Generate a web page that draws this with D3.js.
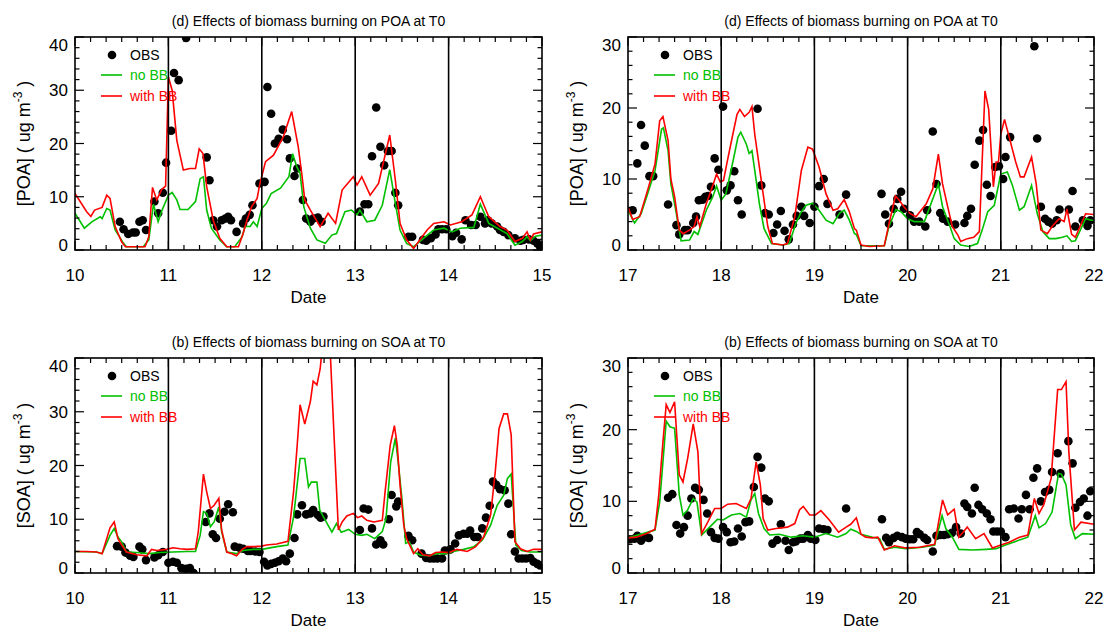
<!DOCTYPE html>
<meta charset="utf-8">
<style>
body { margin: 0; background: #fff; }
text { font-family: "Liberation Sans", Arial, Helvetica, sans-serif; fill: #000; }
</style>
<svg width="1105" height="631"></svg>
<script src="https://cdnjs.cloudflare.com/ajax/libs/d3/7.8.5/d3.min.js"></script>
<script>

// ---- data: [day, value] ----
var poaObsA = [[10.48,5.3],[10.52,3.9],[10.57,3],[10.62,3.3],[10.65,3.3],[10.69,5.3],[10.725,5.6],[10.76,3.75],[10.85,9.1],[10.89,6.9],[10.94,10.75],[10.975,16.4],[11.03,22.4],[11.06,33.25],[11.11,31.9],[11.19,39.8],[11.41,17.4],[11.44,13.1],[11.48,5.6],[11.52,4.4],[11.57,5.6],[11.61,5.9],[11.64,6.25],[11.67,5.6],[11.73,3.4],[11.8,5],[11.83,5.9],[11.87,6.6],[11.9,8.4],[11.975,12.5],[12.03,12.8],[12.06,30.6],[12.1,25.6],[12.14,20],[12.18,20.9],[12.225,22.6],[12.27,20.8],[12.3,17.2],[12.35,13.9],[12.38,15.3],[12.44,9.4],[12.475,5.9],[12.52,5.3],[12.55,5.9],[12.6,6.1],[12.64,5.3],[13.05,7.2],[13.1,8.6],[13.14,8.6],[13.18,17.6],[13.225,26.75],[13.27,19.4],[13.31,15.9],[13.35,18.6],[13.39,18.6],[13.43,10.75],[13.46,8.4],[13.57,2.5],[13.61,2.5],[13.725,1.9],[13.76,1.75],[13.81,2.2],[13.86,2.9],[13.89,3.9],[13.93,3.9],[13.975,3.9],[14.04,2.6],[14.08,3.25],[14.14,2],[14.18,5.6],[14.24,4.7],[14.29,4.7],[14.34,6.25],[14.39,5],[14.42,5.6],[14.46,5],[14.52,4.4],[14.55,3.75],[14.59,3.4],[14.64,2.8],[14.71,2.2],[14.77,1.75],[14.8,1.9],[14.86,2],[14.91,1.75],[14.95,1.25],[14.98,0.6]];
var poaNoBBA = [[10,6.9],[10.1,4.1],[10.18,5.3],[10.27,6.25],[10.29,5.9],[10.34,7.8],[10.375,7.5],[10.43,3.75],[10.52,1.25],[10.55,0.6],[10.73,0.6],[10.79,1.9],[10.84,8.6],[10.89,5.3],[10.93,7.4],[11,10.3],[11.04,10.8],[11.09,9.4],[11.125,7.6],[11.21,7.6],[11.29,9.1],[11.34,13.4],[11.375,13.75],[11.41,7.5],[11.46,4.1],[11.55,1.9],[11.625,0.6],[11.71,0.6],[11.79,2.5],[11.82,4.4],[11.875,4.4],[11.91,5.3],[11.95,4.4],[12,7.8],[12.05,8.75],[12.1,10.6],[12.2,11.6],[12.29,13.75],[12.33,18.1],[12.375,15.6],[12.41,14.4],[12.45,8.1],[12.52,4.1],[12.59,1.9],[12.68,1.25],[12.75,2.8],[12.8,3.1],[12.89,7.2],[12.96,7.5],[13.02,6.6],[13.05,7.5],[13.125,5.3],[13.21,5.6],[13.29,8.4],[13.37,15.1],[13.43,8.75],[13.48,3.75],[13.55,1.25],[13.625,0.6],[13.73,2.2],[13.84,3.75],[13.95,4.1],[14.04,3.4],[14.125,4.1],[14.27,4.25],[14.34,8.6],[14.43,5],[14.52,4.1],[14.625,3.1],[14.71,0.9],[14.79,1.6],[14.84,2.5],[14.875,1.75],[14.93,2.6],[15,2.8]];
var poaWithBBA = [[10,10.6],[10.125,7.2],[10.17,6.3],[10.21,7.5],[10.29,8],[10.34,10.3],[10.375,9.7],[10.43,4.4],[10.5,1.5],[10.54,0.6],[10.75,0.6],[10.79,2.5],[10.83,11.75],[10.875,9.4],[10.93,11.4],[10.97,12],[11,32.5],[11.04,30],[11.09,20.6],[11.16,15],[11.23,15.3],[11.29,15.3],[11.33,19],[11.37,18.1],[11.41,11.9],[11.48,5.6],[11.55,2.2],[11.625,0.6],[11.75,0.6],[11.8,3.1],[11.84,5.6],[11.89,8.1],[11.95,9.7],[11.98,12.5],[12.04,16.6],[12.125,17.8],[12.23,21.25],[12.32,26],[12.39,19.4],[12.43,14],[12.46,9.4],[12.52,7.5],[12.625,4.4],[12.71,6.9],[12.79,5],[12.86,11.25],[12.98,13.75],[13.02,12.2],[13.07,13.75],[13.16,10.3],[13.25,12.5],[13.37,21.6],[13.43,13.1],[13.48,5],[13.55,1.9],[13.625,0.3],[13.77,3.75],[13.84,5],[13.95,5.3],[14.02,4.7],[14.14,5.3],[14.25,6.6],[14.34,10],[14.43,6.25],[14.55,4.4],[14.625,3.75],[14.71,1.6],[14.79,2.2],[14.84,3.4],[14.875,1.9],[14.91,3],[15,3.4]];

var poaObsB = [[17.05,5.6],[17.1,12.2],[17.14,17.6],[17.18,14.7],[17.23,10.4],[17.27,10.4],[17.43,6.4],[17.52,3.5],[17.55,2.2],[17.61,2.8],[17.64,2.8],[17.7,3.8],[17.73,4.7],[17.76,7],[17.8,7.1],[17.83,7.5],[17.86,7.6],[17.89,8.9],[17.93,12.9],[17.97,11.3],[18.02,20.2],[18.06,8.4],[18.1,9.1],[18.14,11.1],[18.18,7],[18.22,5],[18.39,19.9],[18.43,9.1],[18.47,5.2],[18.51,5],[18.56,2.4],[18.6,3.6],[18.64,5.5],[18.68,2.7],[18.725,1.5],[18.77,3.6],[18.81,4.8],[18.86,6.1],[18.89,4.8],[18.95,3.8],[19,6.1],[19.05,9],[19.1,10],[19.14,6.5],[19.27,5],[19.34,7.8],[19.72,7.9],[19.76,5],[19.8,3.7],[19.85,5.8],[19.89,7.2],[19.93,8.2],[19.96,5.8],[20.025,4.9],[20.07,4],[20.125,4],[20.19,3.3],[20.21,5.6],[20.27,16.7],[20.31,9.3],[20.35,5.2],[20.38,4.4],[20.43,4],[20.51,3.6],[20.61,3.8],[20.64,4.8],[20.68,5.8],[20.72,12],[20.77,15.4],[20.81,16.9],[20.85,9.2],[20.89,7.6],[20.94,11.7],[20.98,11.8],[21.025,10],[21.05,13.1],[21.1,15.9],[21.36,28.7],[21.39,15.7],[21.43,6.1],[21.475,4.4],[21.51,4],[21.55,3.7],[21.6,4.2],[21.63,5.7],[21.73,5.7],[21.77,8.3],[21.8,3.3],[21.88,4.2],[21.93,3.4],[21.96,4.2]];
var poaNoBBB = [[17,5.6],[17.07,3.8],[17.14,5.1],[17.21,7.9],[17.29,11.2],[17.36,17],[17.38,17.2],[17.43,14],[17.46,9.3],[17.5,6.5],[17.57,1.3],[17.66,1.4],[17.71,2.6],[17.75,2.2],[17.84,5.6],[17.91,7.5],[17.95,9],[18,7],[18.05,7.9],[18.125,12.4],[18.18,15.9],[18.21,16.6],[18.27,14.9],[18.3,13.6],[18.33,14],[18.375,9.8],[18.41,6.5],[18.46,3],[18.54,0.9],[18.66,0.7],[18.73,0.9],[18.8,3.7],[18.86,5.4],[18.91,6.3],[18.98,6.6],[19.05,5.6],[19.125,4.2],[19.2,3.7],[19.27,5.2],[19.32,5.6],[19.375,4.2],[19.43,2.3],[19.45,2.2],[19.5,0.6],[19.75,0.6],[19.8,3.3],[19.875,5.7],[19.93,5.4],[20,4.4],[20.07,4],[20.18,4],[20.25,6.5],[20.33,9.3],[20.375,6.1],[20.45,3.5],[20.5,1.6],[20.57,0.7],[20.66,0.5],[20.75,0.9],[20.8,2.8],[20.86,5.4],[20.93,6.3],[21,10.7],[21.07,11],[21.125,9.1],[21.2,5.6],[21.25,6.1],[21.33,9.1],[21.39,5.2],[21.45,2.6],[21.52,1.6],[21.59,1.6],[21.66,1.8],[21.71,2],[21.76,1.2],[21.8,1.3],[21.91,4.4],[22,4.1]];
var poaWithBBB = [[17,6.1],[17.05,4.3],[17.125,4.7],[17.21,8.4],[17.29,12.1],[17.34,18.2],[17.375,18.8],[17.43,15.4],[17.46,10],[17.5,7.5],[17.55,2.8],[17.59,2.3],[17.66,2.8],[17.71,3.3],[17.74,4.7],[17.77,3.3],[17.84,6.5],[17.91,9.1],[17.95,10.7],[17.99,9.6],[18.025,9.8],[18.07,12.8],[18.125,16.3],[18.17,19.1],[18.2,19.8],[18.25,18.8],[18.3,19.4],[18.33,20.2],[18.36,16.3],[18.4,12.6],[18.45,7.9],[18.5,3.3],[18.55,0.9],[18.66,0.7],[18.71,0.9],[18.79,4.7],[18.86,11.2],[18.93,14.5],[18.98,14.2],[19.05,11.7],[19.125,7.9],[19.2,5.6],[19.25,5.8],[19.32,7.1],[19.375,5.4],[19.43,3],[19.45,2.8],[19.5,0.7],[19.59,0.5],[19.75,0.6],[19.8,3.7],[19.87,7.6],[19.91,7],[19.96,6.1],[20.02,5.2],[20.09,4.7],[20.2,6.5],[20.27,8.6],[20.33,13.5],[20.375,9.3],[20.43,6.1],[20.48,3.3],[20.54,2.1],[20.57,1.2],[20.64,1.6],[20.71,1.8],[20.77,2.6],[20.83,22.4],[20.87,19.8],[20.92,8.9],[20.95,12.4],[20.975,12.4],[21,16.3],[21.04,18.4],[21.09,15.9],[21.16,12.4],[21.21,10.3],[21.25,10.3],[21.33,13.1],[21.38,9.3],[21.43,2.8],[21.5,2.3],[21.55,3.3],[21.625,4.4],[21.68,4],[21.71,5.8],[21.76,2.2],[21.8,1.8],[21.91,5.1],[22,5]];

var soaObsA = [[10.45,5],[10.5,4.9],[10.54,3.8],[10.59,3.2],[10.625,3],[10.69,4.9],[10.72,4.4],[10.76,2.4],[10.85,2.9],[10.89,3.3],[10.94,3.9],[11,1.9],[11.05,2.1],[11.09,1.9],[11.14,0.9],[11.19,0.8],[11.23,0.9],[11.27,0],[11.3,-0.6],[11.4,9.5],[11.44,11.1],[11.475,7.2],[11.51,6.5],[11.55,10.1],[11.6,11.4],[11.64,12.8],[11.69,11.3],[11.71,4.9],[11.76,4.7],[11.8,4.5],[11.85,4.1],[11.88,4.1],[11.93,4],[11.975,3.9],[12.025,2.1],[12.06,1.4],[12.1,1.7],[12.14,1.9],[12.18,2.2],[12.225,2.7],[12.26,2.2],[12.3,3.6],[12.35,6.5],[12.38,10.9],[12.43,12.6],[12.475,10.9],[12.52,11.1],[12.55,11.7],[12.6,10.8],[12.63,10.3],[12.66,10.5],[13.05,8],[13.09,12],[13.14,11.8],[13.18,8.3],[13.225,5.3],[13.27,6.1],[13.3,5.3],[13.36,10],[13.39,14.5],[13.44,12.4],[13.46,13.3],[13.57,6.9],[13.61,6.1],[13.71,3.6],[13.76,2.8],[13.8,2.7],[13.84,2.7],[13.88,2.7],[13.93,2.7],[13.96,4.2],[14.02,4.4],[14.07,5.5],[14.11,7],[14.16,7.3],[14.2,7.3],[14.23,7.9],[14.275,6.7],[14.31,6.7],[14.36,8.3],[14.4,10.3],[14.44,12.5],[14.475,17],[14.51,16.4],[14.55,15.6],[14.6,15.4],[14.64,12.9],[14.67,7.2],[14.71,4],[14.75,2.7],[14.79,2.7],[14.83,2.7],[14.875,2.8],[14.91,2.1],[14.95,1.7],[14.98,1.4]];
var soaNoBBA = [[10,4],[10.23,3.9],[10.29,3.6],[10.375,7],[10.42,8.3],[10.46,6.7],[10.5,5.8],[10.55,3.9],[10.66,3.8],[10.79,3.6],[10.91,3.8],[11.05,3.9],[11.2,4],[11.29,4],[11.34,7],[11.375,11.4],[11.41,11.1],[11.45,8.6],[11.49,9.5],[11.54,12.3],[11.57,7.7],[11.625,3.9],[11.73,3.6],[11.8,4.2],[11.91,4.4],[12,4.4],[12.16,4.9],[12.28,5.2],[12.34,10.4],[12.41,21.3],[12.46,21.3],[12.5,16],[12.53,16.9],[12.59,16.9],[12.62,11.7],[12.7,9.2],[12.75,7.6],[12.8,9.2],[12.85,7.6],[12.93,8.1],[13,7.2],[13.07,7],[13.125,7.2],[13.21,6.4],[13.29,7.7],[13.33,10.1],[13.38,20.7],[13.43,25.1],[13.46,20.7],[13.5,13.9],[13.54,5.5],[13.58,5.8],[13.625,3.9],[13.7,3.3],[13.79,3.2],[13.875,3.6],[13.98,3.6],[14.05,4],[14.16,4.4],[14.27,4.9],[14.36,6.1],[14.45,8.9],[14.52,12.6],[14.59,14.5],[14.63,17.6],[14.67,18.4],[14.72,5.2],[14.78,4.2],[14.87,3.9],[15,3.9]];
var soaWithBBA = [[10,4],[10.125,4],[10.23,3.9],[10.29,3.6],[10.375,8.4],[10.42,9.5],[10.46,6.4],[10.5,5.2],[10.55,3.9],[10.66,3.4],[10.77,3.2],[10.82,4.4],[10.875,4.2],[10.98,4.4],[11.05,4.7],[11.125,4.5],[11.2,4.4],[11.29,4.5],[11.32,7.7],[11.375,18.4],[11.41,15.1],[11.45,12],[11.49,12.6],[11.54,13.9],[11.57,8],[11.625,3.9],[11.68,3.6],[11.73,3.2],[11.79,4.4],[11.84,4.9],[11.91,4.9],[12,5],[12.05,5.2],[12.16,5.4],[12.28,5.9],[12.34,15.1],[12.38,24],[12.41,31.3],[12.46,27.7],[12.52,31.9],[12.55,35.7],[12.59,35],[12.625,38],[12.66,44],[12.72,46],[12.77,26.9],[12.82,8],[12.86,9.5],[12.91,10.6],[12.98,11.1],[13.025,10.3],[13.07,10.6],[13.125,9.8],[13.2,9.5],[13.29,9.8],[13.32,15.1],[13.375,23.8],[13.42,27.4],[13.45,23.8],[13.48,16.4],[13.52,8.9],[13.55,6.4],[13.625,3.6],[13.67,4.5],[13.725,3.4],[13.8,3.2],[13.86,3.8],[13.93,3.9],[14,3.8],[14.09,4.4],[14.2,4],[14.29,4.9],[14.375,6.7],[14.45,10.8],[14.5,18.9],[14.54,26.9],[14.59,29.6],[14.63,29.6],[14.67,25.7],[14.71,5.8],[14.77,4.5],[14.84,4],[14.91,4.4],[15,4.4]];

var soaObsB = [[17.02,4.7],[17.07,4.8],[17.1,5.2],[17.14,4.5],[17.19,5],[17.225,4.9],[17.43,10.5],[17.475,11],[17.52,6.7],[17.56,5.5],[17.6,6.4],[17.64,8],[17.68,10.4],[17.72,11.9],[17.76,11.6],[17.81,10.2],[17.85,8.3],[17.89,5.7],[17.93,4.9],[17.97,4.8],[18.02,6.4],[18.06,5.7],[18.1,4.3],[18.14,4.4],[18.18,6.2],[18.22,5.1],[18.26,7.1],[18.3,7.2],[18.35,12],[18.39,16.2],[18.43,14.7],[18.47,10.4],[18.51,10],[18.55,4.1],[18.6,4.6],[18.64,6.8],[18.69,4.5],[18.725,3.2],[18.77,4.3],[18.8,4.4],[18.85,4.8],[18.88,4.8],[18.93,5.3],[18.96,4.8],[19.01,4.6],[19.05,6.2],[19.1,6.1],[19.14,6],[19.34,9],[19.725,7.5],[19.77,4.9],[19.8,4.3],[19.85,4.9],[19.89,5.2],[19.94,5],[19.98,4.8],[20.025,4.7],[20.06,4.7],[20.1,5.7],[20.13,5.4],[20.18,4.9],[20.21,4.6],[20.27,3],[20.31,5.2],[20.35,5.3],[20.39,5.3],[20.43,5.4],[20.475,5.6],[20.52,6.4],[20.57,5.5],[20.61,9.7],[20.64,9.2],[20.69,8.3],[20.72,11.9],[20.76,9.5],[20.8,8.9],[20.85,8.3],[20.89,7.5],[20.92,5.8],[20.96,5.8],[21,5.8],[21.05,5],[21.09,8.9],[21.14,9],[21.19,7.6],[21.225,8.9],[21.27,10.9],[21.31,8.9],[21.35,13.3],[21.39,14.6],[21.43,10],[21.475,11.3],[21.52,11.6],[21.55,14.1],[21.61,16.7],[21.64,13.9],[21.725,18.4],[21.77,15.3],[21.8,9.1],[21.85,9.9],[21.89,10.4],[21.93,8],[21.96,11.4]];
var soaNoBBB = [[17,4.9],[17.29,6],[17.34,9.9],[17.41,21.2],[17.45,20.4],[17.5,20.2],[17.55,10.9],[17.59,8.1],[17.64,8.8],[17.7,10.4],[17.74,9.9],[17.79,5.3],[17.86,6.2],[17.93,7.1],[17.96,7.5],[18.02,7.4],[18.11,8.1],[18.2,8.3],[18.27,7.8],[18.32,10.2],[18.36,11.1],[18.4,8.3],[18.46,6.2],[18.52,5.3],[18.625,5.4],[18.75,5],[18.875,5.2],[19,5],[19.125,5.5],[19.25,5],[19.34,5.5],[19.39,6.1],[19.45,5.8],[19.5,5.4],[19.625,5],[19.7,4.8],[19.75,3.3],[19.86,3.6],[19.98,3.4],[20.16,3.6],[20.29,3.9],[20.37,8],[20.41,6.2],[20.48,5],[20.55,3.3],[20.7,3.2],[20.84,3.3],[20.95,3.4],[21.05,3.9],[21.2,4.6],[21.29,5],[21.37,8],[21.41,6.3],[21.48,6.9],[21.55,8.5],[21.62,13.9],[21.65,13.8],[21.7,12.3],[21.75,6.7],[21.8,4.8],[21.875,5.5],[22,5.4]];
var soaWithBBB = [[17,4.9],[17.09,5],[17.2,5.5],[17.29,6.1],[17.33,10.9],[17.375,18.3],[17.41,23.5],[17.45,22.4],[17.5,23.9],[17.55,13.7],[17.59,12.7],[17.64,16],[17.7,20.8],[17.75,16.9],[17.79,5.5],[17.86,7.2],[17.93,9],[18,9],[18.07,9.6],[18.16,9.7],[18.27,9],[18.32,10.4],[18.35,13.2],[18.375,15.5],[18.42,12.3],[18.45,7.6],[18.5,6],[18.59,6.2],[18.71,6.4],[18.79,6.9],[18.84,8.8],[18.88,9.3],[18.95,8.1],[19.01,8.1],[19.07,8.7],[19.16,7.4],[19.26,5.7],[19.34,6.4],[19.39,6.8],[19.45,7.7],[19.5,5.4],[19.55,5],[19.625,4.9],[19.68,5],[19.75,3.2],[19.86,3.8],[19.98,3.5],[20.125,3.6],[20.29,4],[20.375,10.2],[20.43,8.1],[20.5,8.9],[20.55,5],[20.64,6.4],[20.73,4.8],[20.82,5.5],[20.91,3.5],[21,3.9],[21.09,4.3],[21.2,5],[21.29,5.3],[21.36,10.4],[21.41,8.3],[21.46,9.5],[21.54,13.2],[21.61,25.6],[21.65,25.6],[21.7,26.7],[21.73,16.9],[21.79,6],[21.86,7.1],[22,6.8]];

var titles = ["(d) Effects of biomass burning on POA at T0", "(b)  Effects of biomass burning on SOA at T0"];
var species = ["POA", "SOA"];
var legendNames = ["OBS", "no BB", "with BB"];

var GREEN = "#00c000", RED = "#ff0000";

var panels = [
  {x0: 75,  x1: 542,  y0: 37,  y1: 250, day0: 10, ymax: 40, title: titles[0], sp: species[0], obs: poaObsA, nobb: poaNoBBA, wbb: poaWithBBA},
  {x0: 628, x1: 1094, y0: 37,  y1: 250, day0: 17, ymax: 30, title: titles[0], sp: species[0], obs: poaObsB, nobb: poaNoBBB, wbb: poaWithBBB},
  {x0: 75,  x1: 542,  y0: 358, y1: 573, day0: 10, ymax: 40, title: titles[1], sp: species[1], obs: soaObsA, nobb: soaNoBBA, wbb: soaWithBBA},
  {x0: 628, x1: 1094, y0: 358, y1: 573, day0: 17, ymax: 30, title: titles[1], sp: species[1], obs: soaObsB, nobb: soaNoBBB, wbb: soaWithBBB}
];

var svg = d3.select("svg");

panels.forEach(function(p, i) {
  var x = d3.scaleLinear().domain([p.day0, p.day0 + 5]).range([p.x0, p.x1]);
  var y = d3.scaleLinear().domain([0, p.ymax]).range([p.y1, p.y0]);
  var g = svg.append("g");

  g.append("clipPath").attr("id", "clip" + i)
    .append("rect").attr("x", p.x0).attr("y", p.y0)
    .attr("width", p.x1 - p.x0).attr("height", p.y1 - p.y0);

  var plot = g.append("g").attr("clip-path", "url(#clip" + i + ")");

  // obs dots
  plot.selectAll("circle").data(p.obs).enter().append("circle")
    .attr("cx", function(d) { return x(d[0]); })
    .attr("cy", function(d) { return y(d[1]); })
    .attr("r", 4.3)
    .attr("fill", "#000");

  var line = d3.line()
    .x(function(d) { return x(d[0]); })
    .y(function(d) { return y(d[1]); });

  plot.append("path").datum(p.nobb).attr("d", line)
    .attr("fill", "none").attr("stroke", GREEN).attr("stroke-width", 1.6);
  plot.append("path").datum(p.wbb).attr("d", line)
    .attr("fill", "none").attr("stroke", RED).attr("stroke-width", 1.6);

  // day separators
  d3.range(p.day0 + 1, p.day0 + 5).forEach(function(dd) {
    g.append("line").attr("x1", x(dd)).attr("x2", x(dd))
      .attr("y1", p.y0).attr("y2", p.y1)
      .attr("stroke", "#000").attr("stroke-width", 1.6);
  });

  // frame
  g.append("rect").attr("x", p.x0).attr("y", p.y0)
    .attr("width", p.x1 - p.x0).attr("height", p.y1 - p.y0)
    .attr("fill", "none").attr("stroke", "#000").attr("stroke-width", 1.6);

  // y ticks (every 2, major every 10), both sides, pointing in
  d3.range(0, p.ymax + 0.01, 2).forEach(function(v) {
    var len = (v % 10 === 0) ? 9 : 4.5;
    g.append("line").attr("x1", p.x0).attr("x2", p.x0 + len)
      .attr("y1", y(v)).attr("y2", y(v)).attr("stroke", "#000").attr("stroke-width", 1.2);
    g.append("line").attr("x1", p.x1).attr("x2", p.x1 - len)
      .attr("y1", y(v)).attr("y2", y(v)).attr("stroke", "#000").attr("stroke-width", 1.2);
  });

  // x ticks every 4 hours, bottom and top
  d3.range(0, 31).forEach(function(k) {
    var t = p.day0 + k / 6;
    var len = (k % 6 === 0) ? 9 : 5;
    g.append("line").attr("x1", x(t)).attr("x2", x(t))
      .attr("y1", p.y1).attr("y2", p.y1 - len).attr("stroke", "#000").attr("stroke-width", 1.2);
    g.append("line").attr("x1", x(t)).attr("x2", x(t))
      .attr("y1", p.y0).attr("y2", p.y0 + len).attr("stroke", "#000").attr("stroke-width", 1.2);
  });

  // y tick labels (end labels pulled inside the frame, as in the original)
  d3.range(0, p.ymax + 0.01, 10).forEach(function(v) {
    var shift = v === 0 ? -5 : (v === p.ymax ? 8 : 0);
    g.append("text").attr("x", p.x0 - 7).attr("y", y(v) + shift + 6)
      .attr("text-anchor", "end").style("font-size", "17px").text(v);
  });

  // x tick labels
  d3.range(p.day0, p.day0 + 6).forEach(function(dd) {
    g.append("text").attr("x", x(dd)).attr("y", p.y1 + 31)
      .attr("text-anchor", "middle").style("font-size", "17px").text(dd);
  });

  g.append("text").attr("x", (p.x0 + p.x1) / 2).attr("y", p.y1 + 53)
    .attr("text-anchor", "middle").style("font-size", "17px").text("Date");

  g.append("text").attr("x", (p.x0 + p.x1) / 2).attr("y", p.y0 - 11)
    .attr("text-anchor", "middle").style("font-size", "14px").text(p.title);

  // y axis title with superscript
  var yt = g.append("text")
    .attr("transform", "translate(" + (p.x0 - 45) + "," + ((p.y0 + p.y1) / 2) + ") rotate(-90)")
    .attr("text-anchor", "middle").style("font-size", "18px");
  yt.append("tspan").text("[" + p.sp + "] ( ug m");
  yt.append("tspan").attr("dy", -8).style("font-size", "12px").text("-3");
  yt.append("tspan").attr("dy", 8).text(" )");

  // legend
  var lx = p.x0, ly = p.y0;
  g.append("circle").attr("cx", lx + 37).attr("cy", ly + 18).attr("r", 4.3).attr("fill", "#000");
  g.append("text").attr("x", lx + 55).attr("y", ly + 23).style("font-size", "14px").text(legendNames[0]);
  g.append("line").attr("x1", lx + 26).attr("x2", lx + 47).attr("y1", ly + 38).attr("y2", ly + 38)
    .attr("stroke", GREEN).attr("stroke-width", 1.6);
  g.append("text").attr("x", lx + 55).attr("y", ly + 43).style("font-size", "14px")
    .style("fill", GREEN).text(legendNames[1]);
  g.append("line").attr("x1", lx + 26).attr("x2", lx + 47).attr("y1", ly + 59).attr("y2", ly + 59)
    .attr("stroke", RED).attr("stroke-width", 1.6);
  g.append("text").attr("x", lx + 55).attr("y", ly + 64).style("font-size", "14px")
    .style("fill", RED).text(legendNames[2]);
});

</script>
